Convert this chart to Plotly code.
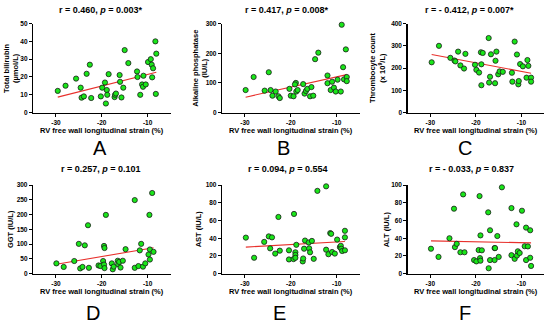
import plotly.graph_objects as go

# ---------------- data ----------------
x_A = [-29.6, -27.9, -25.6, -24.6, -24.4, -23.9, -23.3, -22.6, -22.3, -20.2, -19.9, -19.3, -19.1, -18.9,
       -18.8, -18.5, -17.2, -17.1, -16.9, -16.1, -16.0, -15.7, -15.3, -15.0, -14.2, -12.3, -12.2, -11.6,
       -11.2, -11.0, -10.9, -10.4, -9.9, -9.3, -9.1, -8.8, -9.0, -8.3, -8.1, -8.2]
y_A = [12.2, 15.1, 19.1, 14.0, 8.4, 9.1, 21.8, 26.9, 8.2, 9.1, 14.0, 16.9, 5.1, 12.7,
       10.0, 21.6, 8.7, 10.0, 10.7, 21.1, 17.3, 8.5, 14.0, 35.1, 27.8, 23.1, 20.0, 10.0,
       15.8, 14.5, 20.7, 15.8, 28.4, 30.0, 26.9, 24.9, 19.8, 40.0, 33.1, 10.5]
fit_A = [8.7, 22.7]

x_B = [-29.85, -28.1, -25.7, -24.8, -24.4, -24.0, -23.3, -22.7, -22.4, -20.3, -20.0, -19.4, -18.9,
       -19.1, -18.8, -18.5, -17.3, -17.0, -16.7, -16.4, -15.8, -15.5, -15.1, -14.7, -14.0, -12.0,
       -12.0, -11.3, -11.0, -10.6, -10.2, -9.8, -9.1, -8.9, -8.6, -8.4, -8.0, -7.8, -7.8]
y_B = [76, 120, 74, 136, 76, 57, 71, 55, 49, 80, 57, 55, 100,
       95, 71, 76, 96, 64, 73, 80, 55, 86, 57, 180, 202, 125,
       99, 76, 104, 84, 71, 111, 71, 296, 153, 112, 213, 120, 106]
fit_B = [52, 128]

x_C = [-29.7, -28.1, -25.6, -24.7, -24.5, -23.9, -23.4, -22.6, -22.3, -20.2, -19.9, -19.3, -18.9,
       -18.5, -18.8, -18.8, -17.2, -17.1, -16.9, -16.7, -15.8, -15.7, -15.5, -15.1, -14.8, -14.1,
       -12.0, -12.1, -11.5, -11.0, -10.7, -10.6, -10.3, -9.7, -8.9, -8.7, -8.5, -7.9, -7.9]
y_C = [226, 300, 246, 234, 230, 274, 212, 198, 264, 215, 192, 180, 271,
       268, 217, 123, 335, 135, 161, 262, 132, 233, 274, 172, 185, 183,
       139, 179, 319, 261, 127, 142, 218, 208, 157, 236, 210, 157, 139]
fit_C = [261, 177]

x_D = [-29.9, -28.3, -26.0, -25.0, -24.7, -24.2, -23.7, -23.0, -22.8, -20.7, -20.3, -19.7, -19.5,
       -19.4, -19.5, -19.4, -19.1, -17.8, -17.6, -17.4, -16.5, -16.4, -16.2, -15.9, -15.4, -14.8,
       -12.8, -12.8, -12.0, -11.7, -11.4, -11.0, -10.5, -9.8, -9.6, -9.5, -9.5, -9.0, -8.7]
y_D = [35, 23, 43, 101, 18, 23, 96, 164, 20, 28, 26, 43, 94,
       87, 31, 19, 199, 35, 15, 24, 44, 32, 40, 21, 44, 83,
       20, 249, 26, 79, 101, 24, 35, 65, 199, 82, 48, 273, 74]
fit_D = [32, 88]

x_E = [-29.8, -28.0, -25.8, -24.8, -24.5, -24.1, -23.4, -22.7, -22.4, -20.4, -20.4, -19.4, -19.3,
       -19.0, -19.0, -18.8, -19.0, -17.4, -17.3, -17.1, -16.9, -16.1, -16.0, -15.8, -15.4, -15.0,
       -14.2, -12.3, -12.3, -11.8, -11.4, -11.2, -11.0, -10.4, -9.9, -9.3, -9.1, -9.0, -8.8,
       -8.2, -8.2, -8.2]
y_E = [40.7, 18, 35.9, 42.1, 28.6, 41, 22.7, 64, 26, 26.4, 16.1, 16.5, 67.4,
       24.2, 21.2, 32.6, 18, 13.9, 17.2, 28.2, 37.4, 35.2, 28.6, 24.2, 37, 16.8,
       93.4, 27.1, 98.5, 22, 45.8, 45, 24.5, 22.7, 38.5, 30, 31.5, 28.2, 25.6,
       41, 48.4, 26.4]
fit_E = [30, 36.3]

x_F = [-29.85, -28.2, -25.8, -24.8, -24.6, -24.2, -23.4, -22.8, -22.5, -20.4, -19.9, -19.4, -19.2,
       -19.1, -19.0, -19.0, -18.7, -17.2, -17.3, -16.9, -16.9, -15.9, -15.9, -15.8, -15.3, -15.0,
       -14.3, -12.2, -12.2, -11.5, -11.1, -11.0, -10.8, -10.4, -9.9, -9.3, -9.0, -8.6, -9.0,
       -8.1, -8.1, -7.9]
y_F = [28.2, 19, 40, 73.3, 30, 33.7, 24.2, 89.4, 24.2, 15.4, 13.9, 26.7, 87.5,
       17.6, 14.7, 43.2, 26.4, 6.2, 69.2, 15.4, 49, 28.9, 15.4, 28.9, 42.5, 19,
       97.4, 74, 20.9, 16.8, 55.7, 20.5, 25.3, 23.4, 71, 31, 52, 30.8, 15.4,
       18, 49, 8.8]
fit_F = [37, 34.8]

titles = ["r = 0.460, <i>p</i> = 0.003*", "r = 0.417, <i>p</i> = 0.008*", "r = - 0.412, <i>p</i> = 0.007*",
          "r = 0.257, <i>p</i> = 0.101", "r = 0.094, <i>p</i> = 0.554", "r = - 0.033, <i>p</i> = 0.837"]
y_titles = ["Total bilirubin<br>(µmol/L)", "Alkaline phosphatase<br>(IU/L)",
            "Thrombocyte count<br>(x 10<sup>9</sup>/L)", "GGT (IU/L)", "AST (IU/L)", "ALT (IU/L)"]
letters = ["A", "B", "C", "D", "E", "F"]
x_title = "RV free wall longitudinal strain (%)"
x_ticks = [-30, -20, -10]
y_ticks = [[0, 10, 20, 30, 40, 50],
           [0, 100, 200, 300],
           [0, 100, 200, 300, 400],
           [0, 50, 100, 150, 200, 250, 300],
           [0, 20, 40, 60, 80, 100],
           [0, 20, 40, 60, 80, 100]]

xs = [x_A, x_B, x_C, x_D, x_E, x_F]
ys = [y_A, y_B, y_C, y_D, y_E, y_F]
fits = [fit_A, fit_B, fit_C, fit_D, fit_E, fit_F]

# ---------------- layout geometry (pixels) ----------------
W, H = 550, 324
col_px = [(33, 170.5), (222, 359.6), (407.5, 544.3)]
row_px = [(20, 111), (185, 275.7)]          # top, bottom (from top of image)
title_x = [101, 286.7, 469, 100.5, 288, 471]
title_y = [6, 169]
letter_x = [100, 283, 465, 93, 280, 465]
letter_y = [147, 316]
xtitle_y = [129.3, 294.3]
ytitle_x = [10.8, 199.7, 377, 10.7, 198, 386]

FONT = "Arial, Liberation Sans, sans-serif"
GREEN = "#19e619"
RED = "#e8302c"

fig = go.Figure()
annotations = []


def px(x):
    return x / W


def py(y):
    return 1 - y / H


for i in range(6):
    r, c = divmod(i, 3)
    n = i + 1
    xa = "x" if n == 1 else f"x{n}"
    ya = "y" if n == 1 else f"y{n}"
    x0, x1 = min(xs[i]), max(xs[i])
    fig.add_trace(go.Scatter(x=[x0, x1], y=fits[i], mode="lines",
                             line=dict(color=RED, width=1.1), xaxis=xa, yaxis=ya,
                             showlegend=False, hoverinfo="skip"))
    fig.add_trace(go.Scatter(x=xs[i], y=ys[i], mode="markers",
                             marker=dict(size=5.2, color=GREEN, line=dict(color="#1a1a1a", width=0.8)),
                             xaxis=xa, yaxis=ya, showlegend=False, cliponaxis=False))
    top, bot = row_px[r]
    common = dict(showgrid=False, zeroline=False, showline=True, linecolor="black", linewidth=1.2,
                  ticks="outside", ticklen=3, tickwidth=1, tickcolor="black", tickmode="array",
                  tickfont=dict(family=FONT, size=6.5, color="black", weight="bold"))
    yt = y_ticks[i]
    fig.layout[f"xaxis{'' if n == 1 else n}"] = dict(
        domain=[px(col_px[c][0]), px(col_px[c][1])], range=[-35, -5], anchor=ya,
        tickvals=x_ticks, ticktext=[str(v) for v in x_ticks], **common)
    fig.layout[f"yaxis{'' if n == 1 else n}"] = dict(
        domain=[py(bot), py(top)], range=[yt[0], yt[-1]], anchor=xa,
        tickvals=yt, ticktext=[str(v) for v in yt], **common)

    cx = (col_px[c][0] + col_px[c][1]) / 2
    annotations.append(dict(text=f"<b>{titles[i]}</b>", x=px(title_x[i]), y=py(title_y[r]),
                            xref="paper", yref="paper", showarrow=False, xanchor="center",
                            yanchor="middle", font=dict(family=FONT, size=9, color="black")))
    annotations.append(dict(text=f"<b>{x_title}</b>", x=px(cx), y=py(xtitle_y[r]),
                            xref="paper", yref="paper", showarrow=False, xanchor="center",
                            yanchor="middle", font=dict(family=FONT, size=7.5, color="black")))
    annotations.append(dict(text=f"<b>{y_titles[i]}</b>", x=px(ytitle_x[i]), y=py((top + bot) / 2),
                            xref="paper", yref="paper", showarrow=False, xanchor="center",
                            yanchor="middle", textangle=-90,
                            font=dict(family=FONT, size=7.5, color="black")))
    annotations.append(dict(text=letters[i], x=px(letter_x[i]), y=py(letter_y[r]),
                            xref="paper", yref="paper", showarrow=False, xanchor="center",
                            yanchor="middle", font=dict(family=FONT, size=20, color="black")))

fig.update_layout(width=W, height=H, autosize=False, margin=dict(l=0, r=0, t=0, b=0),
                  paper_bgcolor="white", plot_bgcolor="white", annotations=annotations,
                  font=dict(family=FONT, color="black"), hovermode=False)

fig.write_html("out.html", config={"displayModeBar": False, "staticPlot": True},
               post_script="document.body.style.margin='0';document.body.style.padding='0';")
